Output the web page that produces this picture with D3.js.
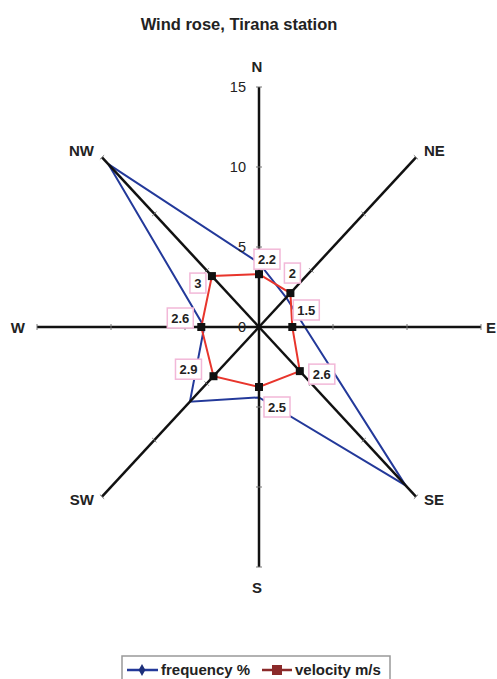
<!DOCTYPE html>
<html>
<head>
<meta charset="utf-8">
<script src="https://cdn.jsdelivr.net/npm/d3@7"></script>
<style>
  body { margin: 0; background: #fff; }
  svg { display: block; font-family: "Liberation Sans", Arial, sans-serif; }
</style>
</head>
<body>
<div id="chart"></div>
<script>
// directions, clockwise from north
var directions = ["N", "NE", "E", "SE", "S", "SW", "W", "NW"];
// frequency %
var frequency = [4.0, 2.6, 3.1, 14.0, 4.4, 6.6, 3.7, 14.4];
// mean velocity m/s (data labels)
var velocity = [2.2, 2, 1.5, 2.6, 2.5, 2.9, 2.6, 3];
var radialTicks = [0, 5, 10, 15];

// label nudges for the velocity data labels (layout only)
var labelNudge = [[8, -15], [2, -20], [14, -17], [22, 3], [18, 20], [-25, -7], [-21, -9], [-14, 7]];

var width = 497, height = 679;
var cx = 259, cy = 327;

var svg = d3.select("#chart").append("svg").attr("width", width).attr("height", height);

// the picture is slightly stretched vertically, so two radial scales
var rx = d3.scaleLinear().domain([0, 15]).range([0, 222]);
var ry = d3.scaleLinear().domain([0, 15]).range([0, 240]);
// velocity sits on its own radial axis (0 - 10)
var vx = d3.scaleLinear().domain([0, 10]).range([0, 222]);
var vy = d3.scaleLinear().domain([0, 10]).range([0, 240]);

var angle = d3.scalePoint().domain(directions).range([0, 2 * Math.PI * 7 / 8]);

function px(d, v, sx) { return cx + sx(v) * Math.sin(angle(d)); }
function py(d, v, sy) { return cy - sy(v) * Math.cos(angle(d)); }

svg.append("text").attr("x", 239).attr("y", 30).attr("text-anchor", "middle")
    .style("font-weight", "bold").style("font-size", "16.5px").style("fill", "#222")
    .text("Wind rose, Tirana station");

// blue frequency polygon
var freqLine = d3.line().curve(d3.curveLinearClosed)
    .x((v, i) => px(directions[i], v, rx))
    .y((v, i) => py(directions[i], v, ry));

svg.append("path").datum(frequency).attr("d", freqLine)
    .attr("fill", "none").attr("stroke", "#23399a").attr("stroke-width", 2);

// spokes
var g = svg.append("g");
directions.forEach(function(d) {
    g.append("line")
        .attr("x1", cx).attr("y1", cy)
        .attr("x2", px(d, 15, rx)).attr("y2", py(d, 15, ry))
        .attr("stroke", "#111").attr("stroke-width", 2.5);
    radialTicks.slice(1).forEach(function(t) {
        var a = angle(d);
        var x = px(d, t, rx), y = py(d, t, ry);
        g.append("line")
            .attr("x1", x - 3 * Math.cos(a)).attr("y1", y - 3 * Math.sin(a))
            .attr("x2", x + 3 * Math.cos(a)).attr("y2", y + 3 * Math.sin(a))
            .attr("stroke", "#777").attr("stroke-width", 1);
    });
});

// radial tick labels on the N spoke
svg.selectAll(".rtick").data(radialTicks).enter().append("text")
    .attr("class", "rtick")
    .attr("x", cx - 13).attr("y", t => cy - ry(t) + 5)
    .attr("text-anchor", "end").style("font-size", "14.5px").style("fill", "#222")
    .text(t => t);

// direction labels
svg.selectAll(".dir").data(directions).enter().append("text")
    .attr("class", "dir")
    .attr("x", function(d) {
        var s = Math.sin(angle(d));
        var x = px(d, 15, rx);
        if (Math.abs(s) < 0.01) return x - 2;
        if (s > 0.99) return width - 1;
        return x + (s > 0 ? 1 : -1) * (Math.abs(s) > 0.99 ? 12 : 8);
    })
    .attr("y", function(d) {
        var c = Math.cos(angle(d));
        var y = py(d, 15, ry);
        if (Math.abs(c) > 0.99) return y + (c > 0 ? -15 : 26);
        if (Math.abs(c) < 0.01) return y + 6;
        return y + (c > 0 ? -1 : 8);
    })
    .attr("text-anchor", function(d) {
        var s = Math.sin(angle(d));
        if (s > 0.99) return "end";
        return Math.abs(s) < 0.01 ? "middle" : (s > 0 ? "start" : "end");
    })
    .style("font-weight", "bold").style("font-size", "15px").style("fill", "#222")
    .text(d => d);

// red velocity polygon
var velLine = d3.line().curve(d3.curveLinearClosed)
    .x((v, i) => px(directions[i], v, vx))
    .y((v, i) => py(directions[i], v, vy));

svg.append("path").datum(velocity).attr("d", velLine)
    .attr("fill", "none").attr("stroke", "#e8352c").attr("stroke-width", 2);

svg.selectAll(".vmark").data(velocity).enter().append("rect")
    .attr("class", "vmark")
    .attr("x", (v, i) => px(directions[i], v, vx) - 4)
    .attr("y", (v, i) => py(directions[i], v, vy) - 4)
    .attr("width", 8).attr("height", 8).attr("fill", "#111");

// data labels
var lab = svg.selectAll(".vlab").data(velocity).enter().append("g")
    .attr("class", "vlab")
    .attr("transform", (v, i) => "translate(" + (px(directions[i], v, vx) + labelNudge[i][0]) + "," +
        (py(directions[i], v, vy) + labelNudge[i][1]) + ")");

lab.append("rect")
    .attr("x", v => String(v).length > 1 ? -13 : -8).attr("y", -10)
    .attr("width", v => String(v).length > 1 ? 26 : 16).attr("height", 20)
    .attr("fill", "#fff").attr("stroke", "#f2b8d8").attr("stroke-width", 1.5);

lab.append("text").attr("text-anchor", "middle").attr("y", 5)
    .style("font-weight", "bold").style("font-size", "13px").style("fill", "#222")
    .text(v => v);

// legend
var leg = svg.append("g");
leg.append("rect").attr("x", 122).attr("y", 656).attr("width", 268).attr("height", 30)
    .attr("fill", "#fff").attr("stroke", "#999").attr("stroke-width", 1.5);

leg.append("line").attr("x1", 127).attr("x2", 158).attr("y1", 670).attr("y2", 670)
    .attr("stroke", "#23399a").attr("stroke-width", 2.5);
leg.append("path").attr("d", d3.symbol().type(d3.symbolDiamond).size(40)())
    .attr("transform", "translate(142,670)").attr("fill", "#1d2f7a");
leg.append("text").attr("x", 161).attr("y", 675).style("font-weight", "bold").style("font-size", "15px")
    .style("fill", "#222").text("frequency %");

leg.append("line").attr("x1", 262).attr("x2", 292).attr("y1", 670).attr("y2", 670)
    .attr("stroke", "#8b2a2a").attr("stroke-width", 2.5);
leg.append("rect").attr("x", 272).attr("y", 665).attr("width", 10).attr("height", 10).attr("fill", "#8b2a2a");
leg.append("text").attr("x", 295).attr("y", 675).style("font-weight", "bold").style("font-size", "15px")
    .style("fill", "#222").text("velocity m/s");
</script>
</body>
</html>
